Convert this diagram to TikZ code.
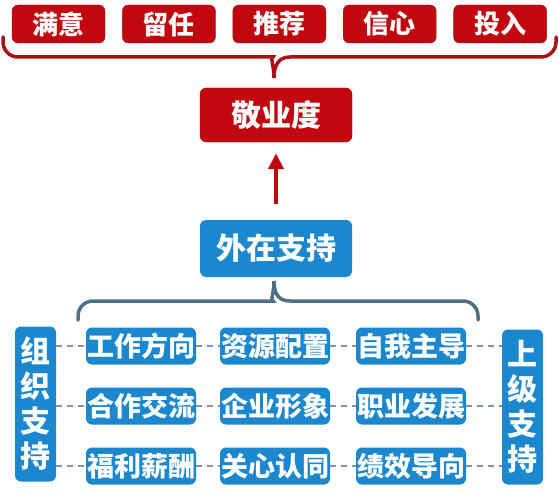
\documentclass[tikz,border=0pt]{standalone}
\usepackage{fontspec}
\usepackage{xcolor}
\usepackage{tikz}
\usetikzlibrary{arrows.meta, positioning}
\newfontfamily\cjk{Noto Sans CJK SC}
\definecolor{engred}{RGB}{192, 8, 14}
\definecolor{bracered}{RGB}{170, 18, 22}
\definecolor{supblue}{RGB}{26, 135, 207}
\definecolor{bracegray}{RGB}{78, 112, 132}
\definecolor{linkgray}{RGB}{128, 150, 166}

\begin{document}
\begin{tikzpicture}[x=1pt, y=-1pt,
        redbox/.style={rectangle, rounded corners=6pt, draw=bracered, fill=engred, text=white, minimum width=93pt, minimum height=38pt, inner sep=1pt, font=\cjk\bfseries\fontsize{26}{28}\selectfont},
        bigbox/.style={redbox, minimum width=152pt, minimum height=54pt, font=\cjk\bfseries\fontsize{30}{32}\selectfont},
        bluebox/.style={rectangle, rounded corners=6pt, fill=supblue, text=white, minimum width=108pt, minimum height=37pt, inner sep=1pt, font=\cjk\bfseries\fontsize{27}{28}\selectfont},
        sidebox/.style={bluebox, minimum width=41pt, minimum height=155pt, align=center, font=\cjk\bfseries\fontsize{30}{35}\selectfont},
        brace/.style={line width=3.5pt, line cap=round},
        link/.style={dashed, dash pattern=on 6pt off 5pt, line width=1.5pt, linkgray},
        arrow/.style={-{Triangle[width=15pt, length=16pt]}, line width=4pt, engred},
        node distance=17pt
    ]
        \useasboundingbox (0,0) rectangle (559,500);

        % Outcome layer
        \node (sat) [redbox] at (58.5,24) {满意};
        \node (ret) [redbox, right=of sat] {留任};
        \node (rec) [redbox, right=of ret] {推荐};
        \node (con) [redbox, right=of rec] {信心};
        \node (inv) [redbox, right=of con] {投入};

        \draw [brace, bracered] [rounded corners=15pt] (3,37) |- (258,57) [sharp corners]
            .. controls (270,57) and (274,66) .. (274,78)
            .. controls (274,66) and (278,57) .. (290,57) [rounded corners=15pt] -| (556,37);

        \node (eng) [bigbox] at (276,115) {敬业度};
        \node (ext) [bluebox, minimum width=152pt, minimum height=57pt, font=\cjk\bfseries\fontsize{30}{32}\selectfont] at (276,248.5) {外在支持};

        \draw [arrow, shorten <=16pt, shorten >=11pt] (ext) -- (eng);

        \draw [brace, bracegray] [rounded corners=15pt] (78,320) |- (258,301) [sharp corners]
            .. controls (270,301) and (274,293) .. (274,281)
            .. controls (274,293) and (278,301) .. (290,301) [rounded corners=15pt] -| (478,320);

        % Support grid
        \node (dir) [bluebox] at (141,346) {工作方向};
        \node (res) [bluebox] at (275,346) {资源配置};
        \node (self) [bluebox] at (411,346) {自我主导};
        \node (coop) [bluebox] at (141,406) {合作交流};
        \node (img) [bluebox] at (275,406) {企业形象};
        \node (car) [bluebox] at (411,406) {职业发展};
        \node (pay) [bluebox] at (141,466) {福利薪酬};
        \node (care) [bluebox] at (275,466) {关心认同};
        \node (perf) [bluebox] at (411,466) {绩效导向};

        \node (org) [sidebox] at (35.5,404) {组\\织\\支\\持};
        \node (boss) [sidebox] at (522.5,407) {上\\级\\支\\持};

        % Dashed links
        \draw [link] (org.east |- dir) -- (dir.west);
        \draw [link] (dir.east) -- (res.west);
        \draw [link] (res.east) -- (self.west);
        \draw [link] (self.east) -- (boss.west |- self);
        \draw [link] (org.east |- coop) -- (coop.west);
        \draw [link] (coop.east) -- (img.west);
        \draw [link] (img.east) -- (car.west);
        \draw [link] (car.east) -- (boss.west |- car);
        \draw [link] (org.east |- pay) -- (pay.west);
        \draw [link] (pay.east) -- (care.west);
        \draw [link] (care.east) -- (perf.west);
        \draw [link] (perf.east) -- (boss.west |- perf);

    \end{tikzpicture}
\end{document}
